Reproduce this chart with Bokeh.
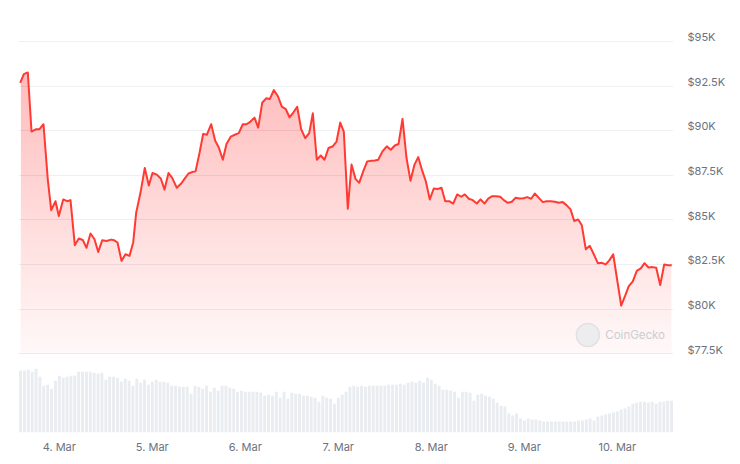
import numpy as np
from bokeh.plotting import figure
from bokeh.models import Range1d, LinearAxis, FixedTicker, Label
from bokeh.embed import file_html
from bokeh.resources import INLINE

# ---------------- data ----------------
# time of each price point, in hours since 3 Mar 00:00
price_hours = [13.91, 14.84, 15.87, 16.83, 18.04, 18.89, 19.92, 21.03, 21.91, 23.02,
               23.87, 25.01, 26.04, 26.89, 28.0, 29.03, 30.06, 31.02, 32.05, 33.08,
               34.04, 35.07, 36.18, 37.39, 38.17, 39.02, 40.05, 41.08, 42.12, 43.07,
               43.84, 44.95, 46.06, 47.1, 48.05, 49.16, 50.19, 51.15, 52.18, 53.13,
               54.32, 55.46, 56.31, 57.34, 58.24, 59.15, 60.18, 61.13, 62.06, 63.2,
               64.23, 65.16, 66.19, 67.15, 68.26, 69.29, 70.32, 71.35, 72.31, 73.34,
               74.37, 75.33, 76.36, 77.39, 78.32, 79.35, 80.39, 81.42, 82.45, 83.41,
               84.44, 85.39, 86.42, 87.46, 88.49, 89.42, 90.45, 91.48, 92.44, 93.47,
               94.5, 95.54, 96.49, 97.42, 98.45, 99.41, 100.44, 101.39, 102.43, 103.46,
               104.57, 105.42, 106.3, 107.4, 108.51, 109.55, 110.58, 111.53, 112.57, 113.6,
               114.63, 115.66, 116.62, 117.65, 118.58, 119.61, 120.64, 121.68, 122.63, 123.59,
               124.62, 125.65, 126.68, 127.71, 128.64, 129.68, 130.71, 131.74, 132.7, 133.73,
               134.68, 135.71, 136.75, 137.78, 138.71, 139.74, 140.77, 141.72, 142.76, 143.79,
               144.74, 145.78, 146.7, 147.74, 148.77, 149.8, 150.83, 151.87, 152.9, 153.93,
               154.89, 155.92, 156.88, 157.91, 158.84, 159.87, 160.9, 161.93, 162.97, 164.0,
               165.03, 165.98, 166.94, 167.97, 169.0, 170.03, 170.96, 172.0, 173.03, 174.06,
               175.02, 176.05, 177.08, 178.04, 179.07, 180.1, 181.13, 182.06]
price_usd = [92680, 93160, 93260, 89950, 90080, 90080, 90360, 87260, 85550, 86050,
             85220, 86150, 86050, 86110, 83590, 83960, 83880, 83440, 84240, 83920,
             83210, 83860, 83820, 83900, 83860, 83740, 82710, 83080, 82990, 83740,
             85410, 86520, 87910, 86930, 87630, 87540, 87320, 86700, 87630, 87360,
             86800, 87040, 87300, 87600, 87680, 87720, 88750, 89820, 89770, 90360,
             89430, 89060, 88370, 89250, 89670, 89770, 89860, 90360, 90360, 90510,
             90730, 90170, 91560, 91810, 91770, 92270, 91940, 91340, 91200, 90750,
             91030, 91340, 90080, 89580, 89860, 90970, 88370, 88610, 88370, 89030,
             89110, 89390, 90450, 89950, 85630, 88100, 87300, 87080, 87720, 88280,
             88320, 88330, 88370, 88840, 89120, 88930, 89170, 89250, 90660, 88470,
             87200, 88100, 88520, 87760, 87170, 86150, 86760, 86740, 86800, 86050,
             86050, 85920, 86430, 86300, 86430, 86190, 86110, 85920, 86150, 85920,
             86190, 86330, 86330, 86300, 86110, 85960, 86020, 86240, 86200, 86220,
             86280, 86190, 86480, 86240, 86000, 86050, 86050, 86020, 85960, 86000,
             85830, 85590, 84940, 85030, 84700, 83360, 83550, 83080, 82580, 82600,
             82510, 82750, 83080, 81640, 80210, 80760, 81290, 81560, 82150, 82290,
             82580, 82340, 82360, 82320, 81360, 82510, 82470, 82470]

# hourly traded volume (billion USD), first bar at hour 14 of 3 Mar
volume_first_hour = 14
volume_bn = [6.2, 6.2, 6.3, 6.1, 6.4, 5.6, 4.7, 4.8, 4.4, 5.2,
             5.7, 5.5, 5.6, 5.7, 5.7, 6.1, 6.1, 6.1, 6.1, 6.0,
             5.9, 6.0, 5.3, 5.6, 5.6, 5.5, 5.1, 5.4, 5.2, 4.7,
             5.4, 5.0, 5.3, 4.8, 5.1, 5.3, 5.1, 5.1, 5.0, 4.7,
             4.7, 4.6, 4.6, 4.6, 3.9, 4.7, 4.6, 4.4, 4.7, 4.1,
             4.5, 4.2, 4.7, 4.7, 4.5, 4.4, 4.1, 4.2, 4.1, 4.1,
             4.1, 4.1, 4.0, 3.7, 3.8, 3.7, 4.1, 3.5, 4.1, 3.4,
             4.0, 3.9, 3.9, 3.7, 3.7, 3.6, 3.5, 3.1, 3.7, 3.5,
             3.4, 2.9, 3.5, 3.8, 4.1, 4.6, 4.7, 4.6, 4.7, 4.6,
             4.7, 4.7, 4.7, 4.7, 4.7, 4.8, 4.8, 4.8, 4.9, 4.8,
             5.0, 5.1, 5.0, 5.2, 5.0, 5.5, 5.3, 4.9, 4.7, 4.3,
             4.3, 4.2, 4.1, 3.5, 4.1, 4.1, 4.0, 3.2, 3.8, 3.9,
             3.7, 3.6, 3.4, 3.0, 2.7, 2.6, 1.9, 1.7, 1.9, 1.4,
             1.2, 1.4, 1.3, 1.3, 1.2, 1.1, 1.1, 1.1, 1.1, 1.1,
             1.1, 1.1, 1.1, 1.1, 1.2, 1.2, 1.3, 1.4, 1.2, 1.6,
             1.7, 1.8, 1.9, 2.0, 2.1, 2.3, 2.4, 2.6, 2.9, 3.0,
             3.1, 3.1, 3.0, 3.1, 2.9, 3.1, 3.1, 3.2, 3.2]

day_ticks = [24, 48, 72, 96, 120, 144, 168]
day_labels = ["4. Mar", "5. Mar", "6. Mar", "7. Mar", "8. Mar", "9. Mar", "10. Mar"]
price_ticks = [77500, 80000, 82500, 85000, 87500, 90000, 92500, 95000]
price_labels = ["$77.5K", "$80K", "$82.5K", "$85K", "$87.5K", "$90K", "$92.5K", "$95K"]

# ---------------- styling ----------------
RED = "#ff3a33"
LABEL_COLOR = "#6b7280"
GRID_COLOR = "#eff0f2"
BAR_COLOR = "#e9ecf0"
FONT = "Inter"

x = np.array(price_hours, dtype=float)
y = np.array(price_usd, dtype=float)
vol_x = np.arange(volume_first_hour, volume_first_hour + len(volume_bn))

p = figure(width=732, height=456,
           x_range=Range1d(13.47, 182.5), y_range=Range1d(73101, 96615),
           output_backend="svg", toolbar_location=None, tools="",
           y_axis_location=None,
           min_border_left=18, min_border_right=59, min_border_top=12, min_border_bottom=22,
           outline_line_color=None, background_fill_color="white", border_fill_color="white")

p.extra_y_ranges = {"vol": Range1d(0, 42.2), "lab": Range1d(73101 - 240, 96615 - 240)}

# grid
p.xgrid.grid_line_color = None
p.ygrid.ticker = FixedTicker(ticks=price_ticks)
p.ygrid.grid_line_color = GRID_COLOR
p.ygrid.grid_line_width = 1

# volume bars
p.vbar(x=vol_x, top=volume_bn, bottom=0, width=0.75, y_range_name="vol",
       fill_color=BAR_COLOR, line_color=None)

# gradient area fill (stacked translucent layers), threshold = axis minimum
floor = price_ticks[0]
a0, a1, n_layers = 0.035, 0.30, 60
top = y.max()
da = 1 - ((1 - a1) / (1 - a0)) ** (1.0 / n_layers)
p.varea(x=x, y1=floor, y2=y, fill_color=RED, fill_alpha=a0)
for k in range(1, n_layers + 1):
    lvl = floor + (top - floor) * k / (n_layers + 1)
    p.varea(x=x, y1=lvl, y2=np.maximum(y, lvl), fill_color=RED, fill_alpha=da)

# price line
p.line(x, y, line_color=RED, line_width=2, line_join="round")

# watermark
p.scatter(x=[160.4], y=[78560], size=23, marker="circle",
          fill_color="#e8eaed", line_color="#dfe2e5", line_width=1.5, fill_alpha=0.8)
p.add_layout(Label(x=164.9, y=78560, text="CoinGecko", text_font=FONT,
                   text_font_size="11.5px", text_color="#c9ced3",
                   text_baseline="middle", text_align="left"))

# x axis
xa = p.xaxis[0]
xa.ticker = FixedTicker(ticks=day_ticks)
xa.major_label_overrides = dict(zip(day_ticks, day_labels))
xa.axis_line_color = None
xa.major_tick_line_color = None
xa.minor_tick_line_color = None
xa.major_tick_out = 0
xa.major_tick_in = 0
xa.major_label_standoff = 7
xa.major_label_text_color = LABEL_COLOR
xa.major_label_text_font_size = "11px"
xa.major_label_text_font = FONT

# right price axis (labels sit just above their grid lines)
ya = LinearAxis(y_range_name="lab", ticker=FixedTicker(ticks=price_ticks),
                major_label_overrides=dict(zip(price_ticks, price_labels)),
                axis_line_color=None, major_tick_line_color=None, minor_tick_line_color=None,
                major_tick_out=0, major_tick_in=0,
                major_label_standoff=14, major_label_text_color=LABEL_COLOR,
                major_label_text_font_size="11px", major_label_text_font=FONT)
p.add_layout(ya, "right")

open("out.html", "w").write(file_html(p, INLINE))
